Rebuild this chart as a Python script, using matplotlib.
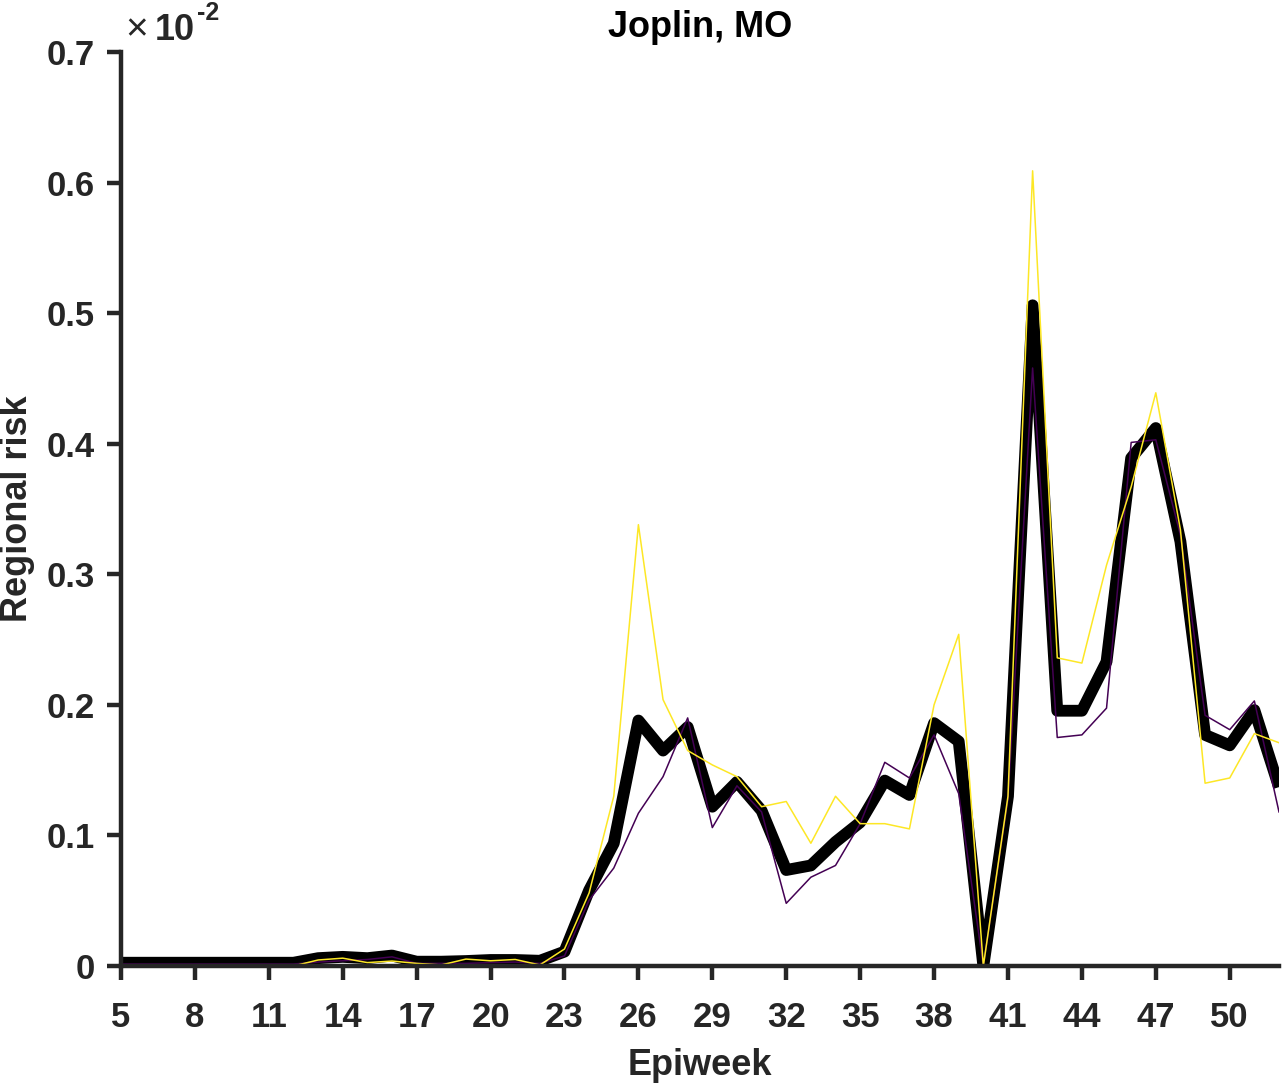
import numpy as np
import matplotlib
matplotlib.use("Agg")
import matplotlib.pyplot as plt

# epiweeks and regional risk (values in units of 1e-2)
weeks = list(range(5, 53))

risk_mean = [0.0025, 0.0025, 0.0025, 0.0025, 0.0025, 0.0025, 0.0025, 0.0025,
             0.006, 0.007, 0.006, 0.008, 0.0033, 0.0033, 0.0038, 0.0046,
             0.0046, 0.004, 0.011, 0.058, 0.094, 0.188, 0.165, 0.183,
             0.122, 0.141, 0.119, 0.0735, 0.077, 0.095, 0.110, 0.142,
             0.131, 0.186, 0.172, 0.0, 0.130, 0.506, 0.1955, 0.1955,
             0.233, 0.389, 0.412, 0.325, 0.177, 0.169, 0.196, 0.137]

risk_low = [0.0015, 0.0015, 0.0015, 0.0015, 0.0015, 0.0015, 0.0015, 0.0015,
            0.003, 0.004, 0.005, 0.007, 0.002, 0.002, 0.002, 0.0026,
            0.003, 0.002, 0.0077, 0.0505, 0.075, 0.117, 0.145, 0.190,
            0.106, 0.138, 0.118, 0.048, 0.068, 0.077, 0.109, 0.156,
            0.144, 0.177, 0.132, 0.0, 0.128, 0.458, 0.175, 0.177,
            0.1975, 0.401, 0.403, 0.330, 0.192, 0.181, 0.203, 0.118]

risk_high = [0.0, 0.0, 0.0, 0.0, 0.0, 0.0, 0.0, 0.0,
             0.0046, 0.006, 0.0026, 0.0038, 0.002, 0.0008, 0.0053, 0.004,
             0.005, 0.0008, 0.013, 0.056, 0.130, 0.338, 0.204, 0.165,
             0.154, 0.145, 0.122, 0.126, 0.094, 0.130, 0.109, 0.109,
             0.105, 0.200, 0.254, 0.0, 0.130, 0.609, 0.236, 0.232,
             0.307, 0.367, 0.439, 0.334, 0.140, 0.144, 0.178, 0.171]

xticks = list(range(5, 51, 3))
yticks = [0, 0.1, 0.2, 0.3, 0.4, 0.5, 0.6, 0.7]
ytick_labels = ["0", "0.1", "0.2", "0.3", "0.4", "0.5", "0.6", "0.7"]

plt.rcParams['font.family'] = ['Liberation Sans', 'DejaVu Sans']
plt.rcParams['font.weight'] = 'bold'

axcol = '#262626'

fig = plt.figure(figsize=(12.88, 10.86), dpi=100)
ax = fig.add_axes([121 / 1288, 1 - 966 / 1086, (1279 - 121) / 1288, (966 - 52) / 1086])

ax.plot(weeks, risk_mean, color='black', lw=8.5, solid_joinstyle='round',
        solid_capstyle='butt')
ax.plot(weeks, risk_low, color='#440154', lw=1.1)
ax.plot(weeks, risk_high, color='#FDE725', lw=1.1)

ax.set_xlim(5, 52)
ax.set_ylim(0, 0.7)
ax.set_xticks(xticks)
ax.set_yticks(yticks)
ax.set_yticklabels(ytick_labels)

for s in ['top', 'right']:
    ax.spines[s].set_visible(False)
for s in ['left', 'bottom']:
    ax.spines[s].set_linewidth(3.2)
    ax.spines[s].set_color(axcol)

ax.tick_params(axis='both', direction='out', length=10, width=3.2,
               colors=axcol, labelsize=25)
ax.tick_params(axis='x', pad=15)
ax.tick_params(axis='y', pad=9)
for lab in ax.get_xticklabels() + ax.get_yticklabels():
    lab.set_fontweight('bold')

ax.set_xlabel("Epiweek", fontsize=26, fontweight='bold', color=axcol, labelpad=10)
ax.set_ylabel("Regional risk", fontsize=26, fontweight='bold', color=axcol, labelpad=8)
ax.set_title("Joplin, MO", fontsize=26, fontweight='bold', color='black', pad=11)

# MATLAB-style exponent label
ax.text(0.004, 1.013, "\u00d7", transform=ax.transAxes, fontsize=28,
        fontweight='normal', color=axcol, ha='left', va='baseline')
ax.text(0.029, 1.013, "10", transform=ax.transAxes, fontsize=26,
        fontweight='bold', color=axcol, ha='left', va='baseline')
ax.text(0.066, 1.035, "-2", transform=ax.transAxes, fontsize=18,
        fontweight='bold', color=axcol, ha='left', va='baseline')

fig.savefig("out.png", dpi=100)
